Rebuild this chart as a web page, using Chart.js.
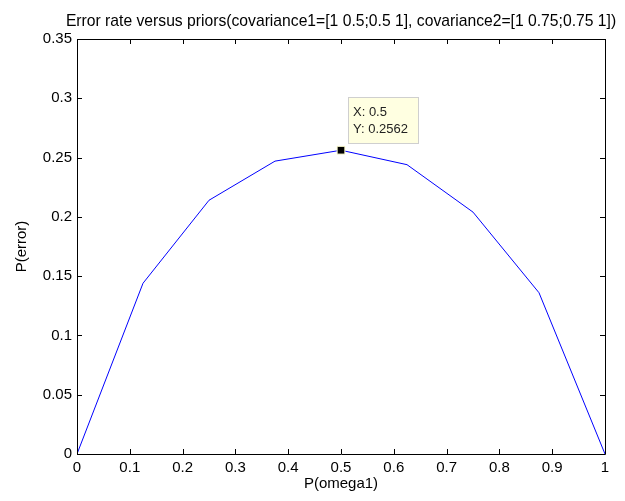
<!DOCTYPE html>
<html>
<head>
<meta charset="utf-8">
<script src="https://cdn.jsdelivr.net/npm/chart.js@4/dist/chart.umd.min.js"></script>
<style>
html,body{margin:0;padding:0;background:#fff;}
canvas{display:block;}
</style>
</head>
<body>
<canvas id="c" width="625" height="501"></canvas>
<script>
const chartTitle = 'Error rate versus priors(covariance1=[1 0.5;0.5 1], covariance2=[1 0.75;0.75 1])';
const xAxisTitle = 'P(omega1)';
const yAxisTitle = 'P(error)';
const priors = [0, 0.125, 0.25, 0.375, 0.5, 0.625, 0.75, 0.875, 1];
const errorRates = [0, 0.144, 0.214, 0.247, 0.2562, 0.244, 0.204, 0.136, 0];
const xTickLabels = ['0','0.1','0.2','0.3','0.4','0.5','0.6','0.7','0.8','0.9','1'];
const yTickLabels = ['0','0.05','0.1','0.15','0.2','0.25','0.3','0.35'];
const tipIndex = 4;
const tipLines = ['X: 0.5', 'Y: 0.2562'];

const FONT = '"Liberation Sans", Arial, sans-serif';

const boxPlugin = {
  id: 'matlabBox',
  afterDatasetsDraw(chart) {
    const {ctx, chartArea: a, scales: {x, y}} = chart;
    ctx.save();
    ctx.strokeStyle = '#000';
    ctx.lineWidth = 1;
    ctx.beginPath();
    ctx.rect(Math.round(a.left) + 0.5, Math.round(a.top) + 0.5, Math.round(a.right - a.left), Math.round(a.bottom - a.top));
    ctx.stroke();
    const tl = 5;
    ctx.beginPath();
    x.ticks.forEach(t => {
      const px = Math.round(x.getPixelForValue(t.value)) + 0.5;
      ctx.moveTo(px, a.bottom); ctx.lineTo(px, a.bottom - tl);
      ctx.moveTo(px, a.top); ctx.lineTo(px, a.top + tl);
    });
    y.ticks.forEach(t => {
      const py = Math.round(y.getPixelForValue(t.value)) + 0.5;
      ctx.moveTo(a.left, py); ctx.lineTo(a.left + tl, py);
      ctx.moveTo(a.right, py); ctx.lineTo(a.right - tl, py);
    });
    ctx.stroke();

    // title
    ctx.fillStyle = '#000';
    ctx.font = '15.7px ' + FONT;
    ctx.textAlign = 'center';
    ctx.textBaseline = 'middle';
    ctx.fillText(chartTitle, (a.left + a.right) / 2, 22);

    // data tip
    const px = x.getPixelForValue(priors[tipIndex]);
    const py = y.getPixelForValue(errorRates[tipIndex]);
    const bx = Math.round(px + 7) + 0.5, by = Math.round(py - 53) + 0.5;
    ctx.fillStyle = '#FFFFE1';
    ctx.strokeStyle = '#CFCFCF';
    ctx.fillRect(bx, by, 70, 46);
    ctx.strokeRect(bx, by, 70, 46);
    ctx.fillStyle = '#222';
    ctx.font = '13px ' + FONT;
    ctx.textAlign = 'left';
    ctx.fillText(tipLines[0], px + 12, py - 38);
    ctx.fillText(tipLines[1], px + 12, py - 21);
    ctx.restore();
  }
};

new Chart(document.getElementById('c'), {
  type: 'line',
  data: {
    datasets: [{
      data: priors.map((p, i) => ({x: p, y: errorRates[i]})),
      borderColor: '#0000FF',
      borderWidth: 1,
      tension: 0,
      fill: false,
      pointStyle: 'rect',
      pointRadius: priors.map((p, i) => i === tipIndex ? 5.5 : 0),
      pointBackgroundColor: '#000',
      pointBorderColor: '#FFFFD0',
      pointBorderWidth: 1,
      pointHoverRadius: 0
    }]
  },
  options: {
    responsive: false,
    animation: false,
    devicePixelRatio: 1,
    events: [],
    layout: {padding: {top: 39, right: 20, bottom: 0, left: 0}},
    plugins: {legend: {display: false}, tooltip: {enabled: false}, title: {display: false}},
    scales: {
      x: {
        type: 'linear', min: 0, max: 1,
        grid: {display: false, drawTicks: false}, border: {display: false},
        ticks: {
          stepSize: 0.1, color: '#000', padding: 5, maxRotation: 0, autoSkip: false,
          font: {family: FONT, size: 15},
          callback: (v, i) => xTickLabels[i]
        },
        title: {display: true, text: xAxisTitle, color: '#000', font: {family: FONT, size: 15}, padding: {top: 0, bottom: 8}},
        afterFit: s => { s.height = 47; }
      },
      y: {
        min: 0, max: 0.35,
        grid: {display: false, drawTicks: false}, border: {display: false},
        ticks: {
          stepSize: 0.05, color: '#000', padding: 5, autoSkip: false,
          font: {family: FONT, size: 15},
          callback: (v, i) => yTickLabels[i]
        },
        title: {display: true, text: yAxisTitle, color: '#000', font: {family: FONT, size: 15}, padding: {top: 13, bottom: 0}},
        afterFit: s => { s.width = 77; }
      }
    }
  },
  plugins: [boxPlugin]
});
</script>
</body>
</html>
